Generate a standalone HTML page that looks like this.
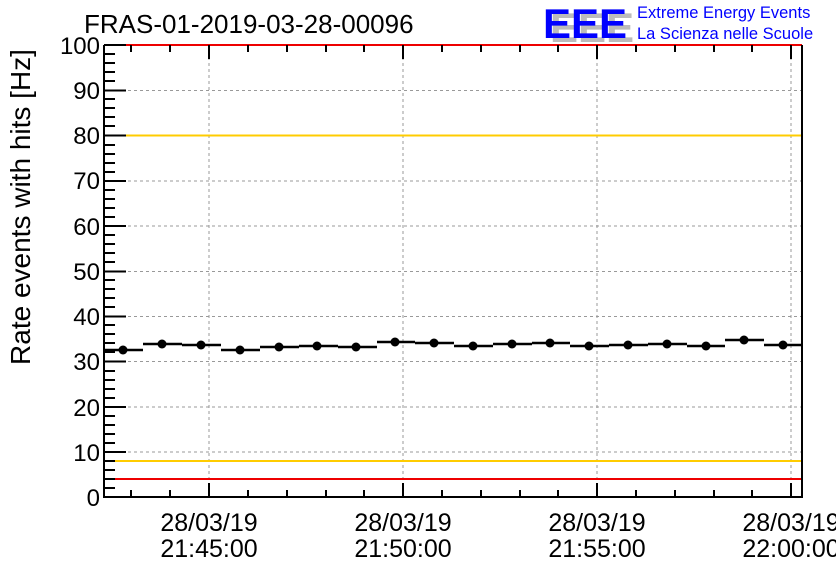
<!DOCTYPE html><html><head><style>body{margin:0;background:#fff}svg{display:block}text{font-family:"Liberation Sans",sans-serif}</style></head><body>
<svg width="836" height="572" xmlns="http://www.w3.org/2000/svg">
<rect width="836" height="572" fill="#fff"/>
<g stroke="#999" stroke-dasharray="3,3" stroke-width="1">
<line x1="104" x2="802" y1="90.5" y2="90.5"/><line x1="104" x2="802" y1="135.5" y2="135.5"/><line x1="104" x2="802" y1="181" y2="181"/><line x1="104" x2="802" y1="226" y2="226"/><line x1="104" x2="802" y1="271.5" y2="271.5"/><line x1="104" x2="802" y1="316.5" y2="316.5"/><line x1="104" x2="802" y1="361.5" y2="361.5"/><line x1="104" x2="802" y1="407" y2="407"/><line x1="104" x2="802" y1="452" y2="452"/>
<line x1="209" x2="209" y1="45" y2="497"/><line x1="403" x2="403" y1="45" y2="497"/><line x1="597" x2="597" y1="45" y2="497"/><line x1="791" x2="791" y1="45" y2="497"/>
</g>
<line x1="104" x2="802" y1="135.5" y2="135.5" stroke="#fc0" stroke-width="2"/>
<line x1="104" x2="802" y1="461" y2="461" stroke="#fc0" stroke-width="2"/>
<line x1="104" x2="802" y1="45" y2="45" stroke="#e00" stroke-width="2"/>
<line x1="104" x2="802" y1="479" y2="479" stroke="#e00" stroke-width="2"/>
<g stroke="#000" stroke-width="2" fill="none">
<path d="M104,45V497H802V45"/>
<path d="M104,497h22M104,452h22M104,407h22M104,361.5h22M104,316.5h22M104,271.5h22M104,226h22M104,181h22M104,135.5h22M104,90.5h22M104,45h22"/>
<path d="M104,488h11M104,479h11M104,470h11M104,461h11M104,443h11M104,434h11M104,425h11M104,416h11M104,398h11M104,389h11M104,380h11M104,371h11M104,352h11M104,343h11M104,334h11M104,325h11M104,307h11M104,298h11M104,289h11M104,280h11M104,262h11M104,253h11M104,244h11M104,235h11M104,217h11M104,208h11M104,199h11M104,190h11M104,172h11M104,163h11M104,154h11M104,145h11M104,126h11M104,117h11M104,108h11M104,99h11M104,81h11M104,72h11M104,63h11M104,54h11"/>
<path d="M209,497v-14M403,497v-14M597,497v-14M791,497v-14"/>
<path d="M131,497v-7M170,497v-7M248,497v-7M287,497v-7M326,497v-7M364,497v-7M442,497v-7M481,497v-7M520,497v-7M558,497v-7M636,497v-7M675,497v-7M714,497v-7M752,497v-7"/>
<path d="M131,45v7M170,45v7M248,45v7M287,45v7M326,45v7M364,45v7M442,45v7M481,45v7M520,45v7M558,45v7M636,45v7M675,45v7M714,45v7M752,45v7M209,45v14M403,45v14M597,45v14M791,45v14"/>
<path stroke-width="2.5" d="M104,350h39M143,344h39M182,345h39M221,350h39M260,347h39M299,346h39M338,347h39M377,342h38M415,343h39M454,346h39M493,344h39M532,343h38M570,346h39M609,345h39M648,344h39M687,346h38M725,340h39M764,345h38"/>
</g>
<g fill="#000">
<circle cx="123" cy="350" r="4.5"/><circle cx="162" cy="344" r="4.5"/><circle cx="201" cy="345" r="4.5"/><circle cx="240" cy="350" r="4.5"/><circle cx="279" cy="347" r="4.5"/><circle cx="317" cy="346" r="4.5"/><circle cx="356" cy="347" r="4.5"/><circle cx="395" cy="342" r="4.5"/><circle cx="434" cy="343" r="4.5"/><circle cx="473" cy="346" r="4.5"/><circle cx="512" cy="344" r="4.5"/><circle cx="550" cy="343" r="4.5"/><circle cx="589" cy="346" r="4.5"/><circle cx="628" cy="345" r="4.5"/><circle cx="667" cy="344" r="4.5"/><circle cx="706" cy="346" r="4.5"/><circle cx="744" cy="340" r="4.5"/><circle cx="783" cy="345" r="4.5"/>
</g>
<g font-size="24" text-anchor="end">
<text x="100" y="506">0</text><text x="100" y="461">10</text><text x="100" y="416">20</text><text x="100" y="370">30</text><text x="100" y="325">40</text><text x="100" y="280">50</text><text x="100" y="235">60</text><text x="100" y="189">70</text><text x="100" y="144">80</text><text x="100" y="99">90</text><text x="100" y="54">100</text>
</g>
<g font-size="25" text-anchor="middle">
<text x="209" y="531">28/03/19</text><text x="209" y="557">21:45:00</text>
<text x="403" y="531">28/03/19</text><text x="403" y="557">21:50:00</text>
<text x="597" y="531">28/03/19</text><text x="597" y="557">21:55:00</text>
<text x="791" y="531">28/03/19</text><text x="791" y="557">22:00:00</text>
</g>
<text transform="translate(30,207) rotate(-90)" font-size="28" text-anchor="middle">Rate events with hits [Hz]</text>
<text x="84" y="33" font-size="26">FRAS-01-2019-03-28-00096</text>
<g font-size="42" font-weight="bold">
<text x="550" y="42" fill="#bbb">EEE</text>
<text x="543" y="38" fill="#00f">EEE</text>
</g>
<text x="637" y="18" font-size="16.5" fill="#00f">Extreme Energy Events</text>
<text x="637" y="39" font-size="16.5" fill="#00f">La Scienza nelle Scuole</text>
</svg></body></html>
